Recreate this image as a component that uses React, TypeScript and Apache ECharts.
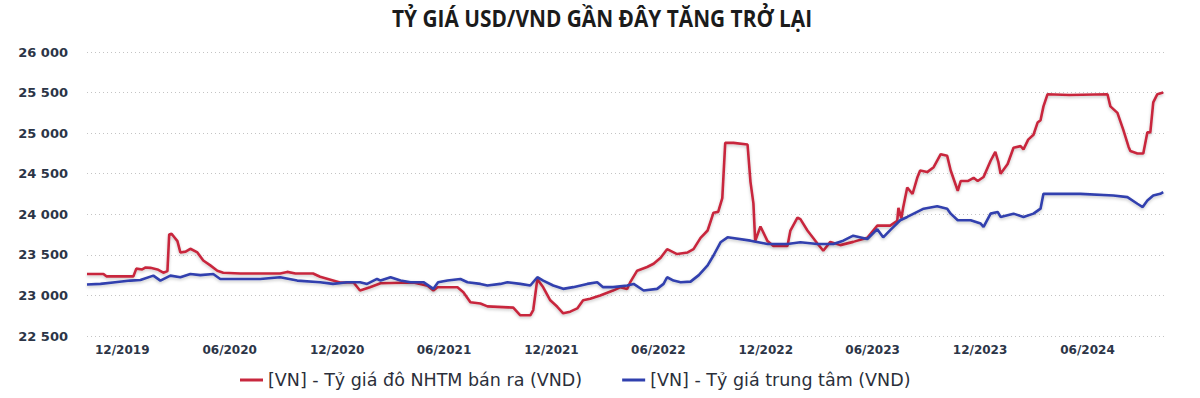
import React, { useEffect, useRef } from 'react';
import * as echarts from 'echarts';

const TITLE = 'TỶ GIÁ USD/VND GẦN ĐÂY TĂNG TRỞ LẠI';
const SERIES_NAMES = ['[VN] - Tỷ giá đô NHTM bán ra (VND)', '[VN] - Tỷ giá trung tâm (VND)'];
const SERIES_COLORS = ['#c8283e', '#3040ae'];

const X_MIN = '2019-10-02';
const X_MAX = '2024-10-11';
const TICK_DATES = [
  '2019-12-01', '2020-06-01', '2020-12-01', '2021-06-01', '2021-12-01',
  '2022-06-01', '2022-12-01', '2023-06-01', '2023-12-01', '2024-06-01',
];

const Y_MIN = 22500;
const Y_MAX = 26000;
const Y_STEP = 500;

const redData: [string, number][] = [
  ['2019-10-02', 23265], ['2019-10-30', 23265], ['2019-11-04', 23235], ['2019-12-20', 23235],
  ['2019-12-25', 23330], ['2020-01-04', 23320], ['2020-01-10', 23345], ['2020-01-18', 23340],
  ['2020-01-30', 23320], ['2020-02-09', 23280], ['2020-02-16', 23300], ['2020-02-19', 23750],
  ['2020-02-23', 23760], ['2020-03-04', 23670], ['2020-03-09', 23530], ['2020-03-18', 23540],
  ['2020-03-26', 23575], ['2020-04-07', 23530], ['2020-04-17', 23430], ['2020-04-29', 23370],
  ['2020-05-11', 23305], ['2020-05-21', 23280], ['2020-06-19', 23270], ['2020-08-26', 23270],
  ['2020-09-07', 23290], ['2020-09-21', 23270], ['2020-10-21', 23270], ['2020-11-02', 23230],
  ['2020-12-06', 23160], ['2020-12-29', 23160], ['2021-01-09', 23060], ['2021-01-26', 23100],
  ['2021-02-13', 23150], ['2021-04-10', 23160], ['2021-05-04', 23120], ['2021-05-14', 23060],
  ['2021-05-21', 23100], ['2021-06-24', 23100], ['2021-07-04', 23040], ['2021-07-16', 22915],
  ['2021-08-02', 22900], ['2021-08-14', 22865], ['2021-09-27', 22850], ['2021-10-09', 22755],
  ['2021-10-26', 22755], ['2021-10-31', 22820], ['2021-11-07', 23200], ['2021-11-17', 23100],
  ['2021-11-29', 22940], ['2021-12-11', 22860], ['2021-12-21', 22780], ['2022-01-02', 22800],
  ['2022-01-14', 22840], ['2022-01-24', 22940], ['2022-02-05', 22960], ['2022-02-22', 23000],
  ['2022-03-16', 23060], ['2022-03-28', 23100], ['2022-04-09', 23080], ['2022-04-14', 23160],
  ['2022-04-26', 23305], ['2022-05-13', 23350], ['2022-05-24', 23390], ['2022-06-05', 23465],
  ['2022-06-16', 23570], ['2022-07-03', 23510], ['2022-07-21', 23530], ['2022-07-31', 23570],
  ['2022-08-12', 23710], ['2022-08-24', 23800], ['2022-09-03', 24020], ['2022-09-11', 24030],
  ['2022-09-18', 24200], ['2022-09-23', 24880], ['2022-10-07', 24880], ['2022-10-31', 24860],
  ['2022-11-05', 24400], ['2022-11-10', 24135], ['2022-11-13', 23670], ['2022-11-22', 23850],
  ['2022-12-04', 23670], ['2022-12-14', 23610], ['2023-01-07', 23610], ['2023-01-12', 23800],
  ['2023-01-24', 23960], ['2023-01-29', 23940], ['2023-02-10', 23800], ['2023-02-27', 23640],
  ['2023-03-09', 23550], ['2023-03-21', 23660], ['2023-04-07', 23620], ['2023-04-29', 23660],
  ['2023-05-23', 23710], ['2023-06-09', 23860], ['2023-07-01', 23860], ['2023-07-13', 23920],
  ['2023-07-15', 24080], ['2023-07-20', 23950], ['2023-07-23', 24080], ['2023-07-30', 24330],
  ['2023-08-08', 24250], ['2023-08-16', 24450], ['2023-08-21', 24540], ['2023-09-02', 24520],
  ['2023-09-13', 24580], ['2023-09-25', 24740], ['2023-10-06', 24720], ['2023-10-12', 24540],
  ['2023-10-24', 24290], ['2023-10-29', 24410], ['2023-11-10', 24410], ['2023-11-20', 24450],
  ['2023-11-27', 24410], ['2023-12-07', 24460], ['2023-12-19', 24660], ['2023-12-27', 24770],
  ['2024-01-01', 24650], ['2024-01-05', 24500], ['2024-01-17', 24620], ['2024-01-27', 24820],
  ['2024-02-08', 24840], ['2024-02-13', 24800], ['2024-02-21', 24920], ['2024-03-01', 24980],
  ['2024-03-08', 25130], ['2024-03-13', 25160], ['2024-03-18', 25330], ['2024-03-25', 25480],
  ['2024-05-01', 25470], ['2024-07-05', 25480], ['2024-07-10', 25330], ['2024-07-22', 25250],
  ['2024-08-01', 25040], ['2024-08-10', 24830], ['2024-08-13', 24780], ['2024-08-25', 24750],
  ['2024-09-04', 24750], ['2024-09-11', 25010], ['2024-09-16', 25010], ['2024-09-21', 25380],
  ['2024-09-28', 25480], ['2024-10-08', 25500],
];

const blueData: [string, number][] = [
  ['2019-10-02', 23134], ['2019-10-25', 23142], ['2019-11-19', 23163], ['2019-12-15', 23183],
  ['2020-01-01', 23190], ['2020-01-23', 23244], ['2020-02-04', 23183], ['2020-02-21', 23244],
  ['2020-03-09', 23224], ['2020-03-26', 23264], ['2020-04-12', 23250], ['2020-05-04', 23264],
  ['2020-05-16', 23203], ['2020-06-19', 23203], ['2020-07-23', 23203], ['2020-08-26', 23224],
  ['2020-09-24', 23183], ['2020-11-02', 23163], ['2020-11-24', 23142], ['2020-12-18', 23163],
  ['2021-01-09', 23163], ['2021-01-21', 23142], ['2021-02-07', 23203], ['2021-02-13', 23183],
  ['2021-03-02', 23224], ['2021-03-19', 23183], ['2021-04-05', 23163], ['2021-04-27', 23163],
  ['2021-05-14', 23081], ['2021-05-22', 23163], ['2021-06-07', 23183], ['2021-06-29', 23203],
  ['2021-07-11', 23163], ['2021-08-02', 23142], ['2021-08-14', 23122], ['2021-09-05', 23142],
  ['2021-09-17', 23163], ['2021-10-09', 23142], ['2021-10-26', 23122], ['2021-11-07', 23224],
  ['2021-11-17', 23183], ['2021-12-04', 23122], ['2021-12-21', 23081], ['2022-01-07', 23102],
  ['2022-01-31', 23142], ['2022-02-17', 23163], ['2022-02-27', 23102], ['2022-03-16', 23102],
  ['2022-04-09', 23122], ['2022-04-20', 23142], ['2022-05-07', 23061], ['2022-05-30', 23081],
  ['2022-06-10', 23142], ['2022-06-16', 23224], ['2022-06-27', 23183], ['2022-07-09', 23163],
  ['2022-07-26', 23170], ['2022-08-09', 23250], ['2022-08-24', 23370], ['2022-09-03', 23492],
  ['2022-09-15', 23655], ['2022-09-27', 23716], ['2022-11-05', 23675], ['2022-12-04', 23634],
  ['2023-01-07', 23634], ['2023-01-29', 23655], ['2023-02-27', 23634], ['2023-03-26', 23634],
  ['2023-04-12', 23675], ['2023-04-29', 23736], ['2023-05-23', 23695], ['2023-06-09', 23817],
  ['2023-06-19', 23716], ['2023-07-01', 23805], ['2023-07-18', 23927], ['2023-07-30', 23967],
  ['2023-08-27', 24069], ['2023-09-19', 24098], ['2023-10-06', 24069], ['2023-10-12', 24008],
  ['2023-10-24', 23927], ['2023-11-15', 23927], ['2023-12-02', 23886], ['2023-12-07', 23845],
  ['2023-12-19', 24008], ['2023-12-31', 24029], ['2024-01-05', 23967], ['2024-01-27', 24008],
  ['2024-02-13', 23967], ['2024-03-01', 24008], ['2024-03-13', 24069], ['2024-03-18', 24252],
  ['2024-05-20', 24252], ['2024-07-15', 24232], ['2024-08-08', 24211], ['2024-08-25', 24130],
  ['2024-09-03', 24089], ['2024-09-11', 24170], ['2024-09-21', 24232], ['2024-10-03', 24252],
  ['2024-10-08', 24272],
];

function toTime(s: string): number {
  const [y, m, d] = s.split('-').map(Number);
  return new Date(y, m - 1, d).getTime();
}

export default function App() {
  const ref = useRef<HTMLDivElement>(null);

  useEffect(() => {
    document.body.style.margin = '0';
    const el = ref.current;
    if (!el) return;
    const chart = echarts.init(el, null, { renderer: 'svg' });

    const titleFont = 'bold 24px "Open Sans"';
    const ctx = document.createElement('canvas').getContext('2d');
    let titleScale = 1;
    if (ctx) {
      ctx.font = titleFont;
      const w = ctx.measureText(TITLE).width;
      if (w > 0) titleScale = 420 / w;
    }

    const textColor = '#2c3547';
    const lineSeries = (name: string, data: [string, number][], color: string) => ({
      name,
      type: 'line',
      data: data.map(([d, v]) => [toTime(d), v]),
      showSymbol: false,
      symbol: 'none',
      itemStyle: { color },
      lineStyle: {
        color,
        width: 2.6,
        shadowColor: 'rgba(0,0,0,0.22)',
        shadowBlur: 3,
        shadowOffsetY: 1.5,
      },
      emphasis: { disabled: true },
    });

    chart.setOption({
      animation: false,
      backgroundColor: '#ffffff',
      graphic: [
        {
          type: 'text',
          x: 602,
          y: 18,
          scaleX: titleScale,
          style: {
            text: TITLE,
            font: titleFont,
            fill: '#1b1b1b',
            textAlign: 'center',
            textVerticalAlign: 'middle',
          },
        },
      ],
      grid: {
        left: 87,
        right: 35,
        top: 52,
        bottom: 62,
        containLabel: false,
        outerBoundsMode: 'none',
      },
      legend: {
        left: 235,
        top: 366,
        icon: 'rect',
        itemWidth: 23,
        itemHeight: 3,
        itemGap: 40,
        textStyle: {
          fontFamily: 'DejaVu Sans',
          fontSize: 17.5,
          color: '#2b2f3a',
        },
        data: SERIES_NAMES,
      },
      xAxis: {
        type: 'value',
        min: toTime(X_MIN),
        max: toTime(X_MAX),
        axisLine: { show: false },
        axisTick: { show: false },
        splitLine: { show: false },
        axisLabel: {
          customValues: TICK_DATES.map(toTime),
          formatter: (v: number) => {
            const d = new Date(v);
            return String(d.getMonth() + 1).padStart(2, '0') + '/' + d.getFullYear();
          },
          color: textColor,
          fontFamily: 'DejaVu Sans',
          fontWeight: 'bold',
          fontSize: 12,
          margin: 8,
        },
      },
      yAxis: {
        type: 'value',
        min: Y_MIN,
        max: Y_MAX,
        interval: Y_STEP,
        axisLine: { show: false },
        axisTick: { show: false },
        axisLabel: {
          formatter: (v: number) => String(v).replace(/\B(?=(\d{3})+(?!\d))/g, ' '),
          color: textColor,
          fontFamily: 'DejaVu Sans',
          fontWeight: 'bold',
          fontSize: 13,
          margin: 19,
        },
        splitLine: {
          show: true,
          lineStyle: { color: '#c4c4c4', width: 1, type: [1, 3] },
        },
      },
      series: [
        lineSeries(SERIES_NAMES[0], redData, SERIES_COLORS[0]),
        lineSeries(SERIES_NAMES[1], blueData, SERIES_COLORS[1]),
      ],
    });

    return () => chart.dispose();
  }, []);

  return <div ref={ref} style={{ width: 1200, height: 398 }} />;
}
